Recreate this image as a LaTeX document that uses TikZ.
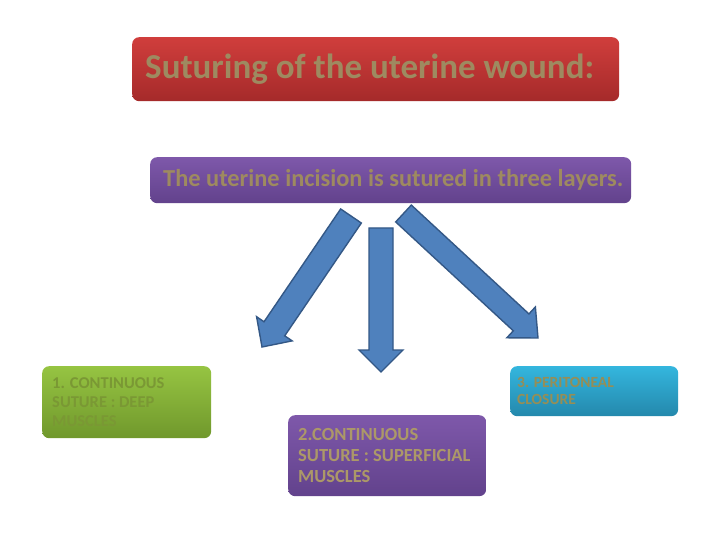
\documentclass[tikz,border=0pt]{standalone}
\usepackage{fontspec}
\setmainfont{Carlito}
\usepackage{xcolor}
\usepackage{tikz}
\usetikzlibrary{calc,positioning}
\definecolor{titletop}{RGB}{208,62,60}
\definecolor{titlebot}{RGB}{165,42,42}
\definecolor{purptop}{RGB}{126,88,170}
\definecolor{purpbot}{RGB}{98,66,140}
\definecolor{greentop}{RGB}{150,196,66}
\definecolor{greenbot}{RGB}{112,152,44}
\definecolor{cyantop}{RGB}{52,182,222}
\definecolor{cyanbot}{RGB}{36,136,172}
\definecolor{khaki}{RGB}{158,138,96}
\definecolor{khakilight}{RGB}{172,152,104}
\definecolor{olivetext}{RGB}{122,152,52}
\definecolor{cyantext}{RGB}{150,142,86}
\definecolor{arrowblue}{RGB}{79,129,189}
\definecolor{arrowedge}{RGB}{52,88,134}
% block arrow: tail, tip, shaft half width, head half width, head length
\newcommand{\blockarrow}[5]{%
  \draw[blockarrow] let \p1=($(#2)-(#1)$), \n1={atan2(\y1,\x1)}, \n2={veclen(\x1,\y1)} in
    [shift={(#1)},rotate=\n1]
    (0pt,#3pt) -- ({\n2-#5pt},#3pt) -- ({\n2-#5pt},#4pt) -- ({\n2},0pt)
    -- ({\n2-#5pt},-#4pt) -- ({\n2-#5pt},-#3pt) -- (0pt,-#3pt) -- cycle;}

\begin{document}
\begin{tikzpicture}[x=1pt,y=-1pt,
    box/.style={rounded corners=7pt,inner xsep=10pt,inner ysep=0pt,align=left,
                anchor=north west,font=\bfseries,
                execute at begin node={\spaceskip=0pt\xspaceskip=0pt}},
    blockarrow/.style={fill=arrowblue,draw=arrowedge,line width=1.4pt,line join=miter}]
  \useasboundingbox[fill=white] (0,0) rectangle (720,540);
  \node[box,inner xsep=13pt,top color=titletop,bottom color=titlebot,text width=461pt,
        minimum height=64pt,text=khaki,font=\bfseries\fontsize{35}{38}\selectfont]
       (title) at (132,37) {\mbox{Suturing of the uterine wound:}};
  \node[box,inner xsep=13pt,top color=purptop,bottom color=purpbot,text width=455pt,
        minimum height=46pt,text=khaki,font=\bfseries\fontsize{24.4}{28}\selectfont]
       (layers) at (150,157) {\mbox{The uterine incision is sutured in three layers.}};
  \node[box,top color=greentop,bottom color=greenbot,text width=149pt,minimum height=72pt,
        text=olivetext,font=\bfseries\fontsize{16.5}{19}\selectfont] (deep) at (42,366)
       {1. CONTINUOUS\\SUTURE : DEEP\\MUSCLES};
  \node[box,top color=purptop,bottom color=purpbot,text width=178pt,minimum height=81pt,
        text=khakilight,font=\bfseries\fontsize{18.5}{21}\selectfont] (superficial) at (288,415)
       {2.CONTINUOUS\\SUTURE : SUPERFICIAL\\MUSCLES};
  \node[box,inner xsep=7pt,top color=cyantop,bottom color=cyanbot,text width=154pt,
        minimum height=50pt,text=cyantext,font=\bfseries\fontsize{15.5}{17}\selectfont]
       (closure) at (510,366) {3. PERITONEAL\\CLOSURE};
  % arrows from the layers box
  \coordinate (tailL) at (351,216);
  \coordinate (tipL)  at (262,347);
  \coordinate (tailM) at (381,228);
  \coordinate (tipM)  at (381,372);
  \coordinate (tailR) at (403.5,213.5);
  \coordinate (tipR)  at (538,338);
  \blockarrow{tailL}{tipL}{12.5}{21.5}{22}
  \blockarrow{tailM}{tipM}{12}{22}{22}
  \blockarrow{tailR}{tipR}{11.5}{21}{23}
\end{tikzpicture}
\end{document}
